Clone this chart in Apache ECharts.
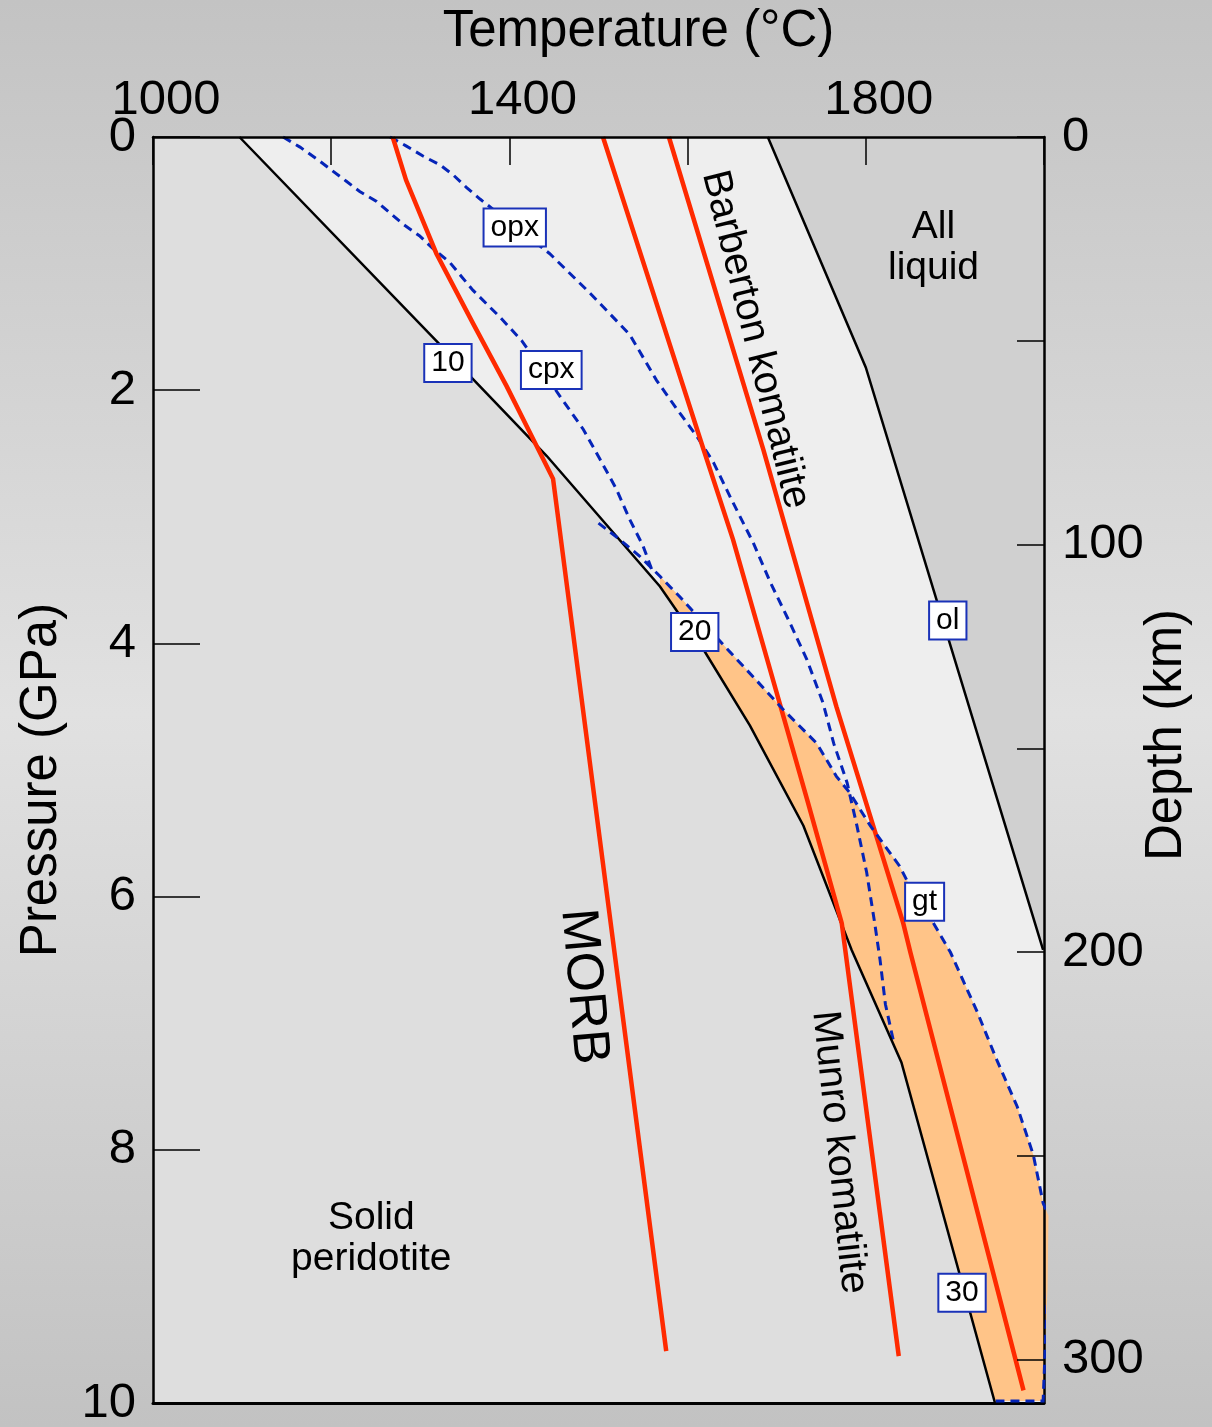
<!DOCTYPE html>
<html>
<head>
<meta charset="utf-8">
<title>Komatiite melting</title>
<script src="https://cdn.jsdelivr.net/npm/echarts@6/dist/echarts.min.js"></script>
<style>
  html, body { margin: 0; padding: 0; }
  body { background: linear-gradient(to bottom, #c3c3c3 0%, #e1e1e1 50%, #c2c2c2 100%); }
  #chart { width: 1212px; height: 1427px; }
</style>
</head>
<body>
<div id="chart"></div>
<script>
// Curves as [temperature °C, pressure GPa]
const solidus = [[1097,0],[1318,1.61],[1442,2.52],[1569,3.55],[1618,4.05],[1670,4.65],[1730,5.44],[1784,6.42],[1840,7.31],[1945,10]];
const liquidus = [[1690,0],[1800,1.82],[1999,6.42]];

const morbAdiabat = [[1269,0],[1284,0.34],[1318,0.92],[1359,1.47],[1397,1.97],[1449,2.70],[1576,9.59]];
const munroAdiabat = [[1505,0],[1618,2.47],[1651,3.18],[1734,5.23],[1773,6.21],[1837,9.63]];
const barbertonAdiabat = [[1579,0],[1685,2.47],[1767,4.50],[1842,6.21],[1850,6.44],[1977,9.90]];

// Mineral-out curves
const cpxOut = [[1146,0],[1165,0.08],[1187,0.19],[1200,0.26],[1217,0.35],[1232,0.43],[1251,0.51],[1266,0.60],[1281,0.69],[1299,0.78],[1314,0.88],[1333,0.99],[1359,1.21],[1389,1.42],[1414,1.61],[1457,2.05],[1483,2.31],[1502,2.55],[1520,2.78],[1535,3.02],[1550,3.23],[1560,3.42]];
const opxOut = [[1266,0],[1284,0.07],[1303,0.15],[1322,0.22],[1337,0.30],[1352,0.40],[1367,0.49],[1445,0.92],[1490,1.23],[1535,1.56],[1565,1.92],[1588,2.15],[1610,2.36],[1629,2.57],[1649,2.86],[1674,3.21],[1693,3.52],[1715,3.84],[1734,4.13],[1752,4.47],[1764,4.79],[1779,5.10],[1790,5.44],[1801,5.81],[1810,6.21],[1816,6.50],[1822,6.85],[1831,7.14]];
const gtOut = [[1500,3.05],[1524,3.18],[1546,3.31],[1569,3.47],[1591,3.63],[1604,3.73],[1636,3.98],[1677,4.29],[1707,4.52],[1745,4.79],[1767,5.05],[1782,5.18],[1805,5.44],[1838,5.76],[1846,5.87],[1876,6.21],[1895,6.44],[1925,6.91],[1947,7.29],[1970,7.66],[1988,8.04],[1999,8.42],[2005,8.52],[2004,9.10],[2001,9.63],[1999,9.985],[1946,9.985]];

// Axis tick labels
const tempTickLabels = [1000, 1400, 1800];
const pressureTickLabels = [0, 2, 4, 6, 8, 10];
const depthTickLabels = [0, 100, 200, 300];

// Boxed curve labels: [text, temperature, pressure]
const boxedLabels = [['opx',1406,0.715],['10',1331,1.785],['cpx',1447,1.84],['20',1608,3.91],['ol',1892,3.82],['gt',1866,6.04],['30',1908,9.13]];

// Field and curve names: [text, temperature, pressure]
const fieldNames = [['All\nliquid',1876,0.877],['Solid\nperidotite',1245,8.70]];
const curveNames = [['MORB',1483,6.71],['Munro komatiite',1770,8.02],['Barberton komatiite',1676,1.60]];

const FONT = '"Liberation Sans", Arial, Helvetica, sans-serif';
const RED = '#ff2a00';
const BLUE = '#0524b8';
const DEPTH_MAX = 310.6; // km at 10 GPa

// Region polygons built from the curves
const solidRegion = [[1000,0]].concat(solidus, [[1000,10]]);
const liquidRegion = liquidus.concat([[2000,6.42],[2000,0]]);
const meltRegion = gtOut.filter(p => p[1] >= 3.45)
  .concat(solidus.filter(p => p[1] >= 3.5).slice().reverse());

function region(pts, color) {
  return {
    type: 'custom', coordinateSystem: 'cartesian2d', silent: true, z: 1, clip: false,
    data: [[pts[0][0], pts[0][1]]],
    renderItem: (params, api) => ({
      type: 'polygon',
      shape: { points: pts.map(p => api.coord(p)) },
      style: { fill: color }
    })
  };
}

function curve(pts, color, width, dashed, z) {
  return {
    type: 'line', data: pts, showSymbol: false, silent: true, clip: false, z: z || 3,
    lineStyle: { color: color, width: width, opacity: 1, type: dashed ? [9, 6] : 'solid', cap: 'butt', join: 'miter' }
  };
}

function textSeries(items, style, rotations) {
  return {
    type: 'scatter', silent: true, z: 7, symbolSize: 1,
    itemStyle: { color: 'rgba(0,0,0,0)', opacity: 1 },
    data: items.map((it, i) => ({
      value: [it[1], it[2]],
      label: Object.assign({ show: true, position: 'inside', formatter: it[0], opacity: 1,
        rotate: rotations ? rotations[i] : 0, textBorderWidth: 0 }, style)
    }))
  };
}

const chart = echarts.init(document.getElementById('chart'), null, { renderer: 'canvas' });

chart.setOption({
  backgroundColor: 'transparent',
  animation: false,
  grid: { left: 153, top: 137, width: 891, height: 1266, show: true, backgroundColor: '#eeeeee', borderWidth: 0, containLabel: false, outerBoundsMode: 'none' },
  xAxis: [{
    type: 'value', position: 'top', min: 1000, max: 2000, interval: 200, z: 5,
    name: 'Temperature (°C)', nameLocation: 'middle', nameGap: 80,
    nameTextStyle: { fontFamily: FONT, fontSize: 51, color: '#000', padding: [0, 0, 0, 80] },
    axisLine: { show: true, onZero: false, lineStyle: { color: '#000', width: 2.5 } },
    axisTick: { show: true, inside: true, length: 28, lineStyle: { color: '#000', width: 1.5 } },
    axisLabel: { show: true, margin: 12, fontFamily: FONT, fontSize: 49, color: '#000', padding: [0, 0, 0, 26],
      showMinLabel: true, showMaxLabel: true,
      formatter: v => tempTickLabels.includes(v) ? String(v) : '' },
    splitLine: { show: false }
  }, {
    type: 'value', position: 'bottom', min: 1000, max: 2000, z: 5,
    axisLine: { show: true, onZero: false, lineStyle: { color: '#000', width: 3 } },
    axisTick: { show: false }, axisLabel: { show: false }, splitLine: { show: false }
  }],
  yAxis: [{
    type: 'value', position: 'left', inverse: true, min: 0, max: 10, interval: 2, z: 5,
    name: 'Pressure (GPa)', nameLocation: 'middle', nameGap: 86, nameRotate: 90, nameMoveOverlap: false,
    nameTextStyle: { fontFamily: FONT, fontSize: 51, color: '#000', padding: [0, 20, 0, 0] },
    axisLine: { show: true, onZero: false, lineStyle: { color: '#000', width: 2.5 } },
    axisTick: { show: true, inside: true, length: 47, lineStyle: { color: '#000', width: 1.5 } },
    axisLabel: { show: true, margin: 17, fontFamily: FONT, fontSize: 49, color: '#000',
      showMinLabel: true, showMaxLabel: true,
      formatter: v => pressureTickLabels.includes(v) ? String(v) : '' },
    splitLine: { show: false }
  }, {
    type: 'value', position: 'right', inverse: true, min: 0, max: DEPTH_MAX, interval: 50, z: 5,
    name: 'Depth (km)', nameLocation: 'middle', nameGap: 97, nameRotate: 90, nameMoveOverlap: false,
    nameTextStyle: { fontFamily: FONT, fontSize: 51, color: '#000', padding: [0, 0, 0, 70] },
    axisLine: { show: true, onZero: false, lineStyle: { color: '#000', width: 2.5 } },
    axisTick: { show: true, inside: true, length: 27, lineStyle: { color: '#000', width: 1.5 } },
    axisLabel: { show: true, margin: 18, fontFamily: FONT, fontSize: 49, color: '#000',
      showMinLabel: true, showMaxLabel: false,
      formatter: v => depthTickLabels.includes(Math.round(v)) && Math.abs(v - Math.round(v)) < 1e-6 ? String(Math.round(v)) : '' },
    splitLine: { show: false }
  }],
  series: [
    region(solidRegion, '#dedede'),
    region(liquidRegion, '#d0d0d0'),
    region(meltRegion, '#ffc488'),
    curve(cpxOut, BLUE, 3, true),
    curve(opxOut, BLUE, 3, true),
    curve(gtOut, BLUE, 3, true, 6),
    curve(solidus, '#000', 2.5, false),
    curve(liquidus, '#000', 2.5, false),
    curve(morbAdiabat, RED, 4.5, false),
    curve(munroAdiabat, RED, 4.5, false),
    curve(barbertonAdiabat, RED, 4.5, false),
    textSeries(fieldNames, { fontFamily: FONT, fontSize: 39, lineHeight: 41, color: '#000', align: 'center' }),
    textSeries(curveNames.slice(0, 1), { fontFamily: FONT, fontSize: 52, color: '#000' }, [-85]),
    textSeries(curveNames.slice(1), { fontFamily: FONT, fontSize: 40, color: '#000' }, [-84, -76]),
    textSeries(boxedLabels, { fontFamily: FONT, fontSize: 30, lineHeight: 30, color: '#000',
      backgroundColor: '#ffffff', borderColor: '#1a32b8', borderWidth: 2, padding: [3, 6, 3, 6] })
  ]
});
</script>
</body>
</html>
